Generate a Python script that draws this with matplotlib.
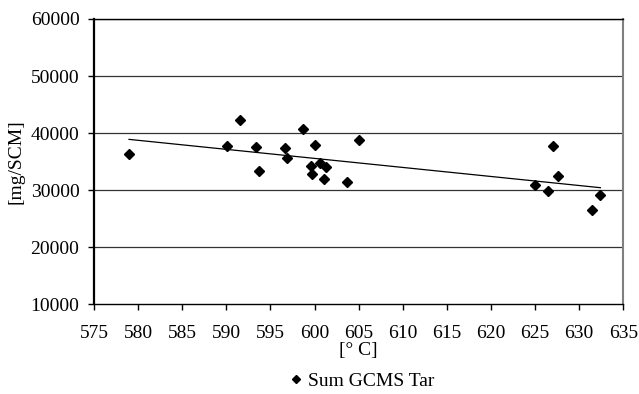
import numpy as np
import matplotlib
matplotlib.use("Agg")
import matplotlib.pyplot as plt
from matplotlib.lines import Line2D

temperature = [578.97, 590.04, 591.6, 593.37, 593.7, 596.64, 596.83, 598.72, 599.6, 599.69,
               600.01, 600.66, 601.03, 601.35, 603.66, 605.04, 625.02, 626.45, 627.0, 627.56,
               631.48, 632.4]
tar = [36300, 37680, 42230, 37500, 33310, 37330, 35580, 40710, 34180, 32790,
       37850, 34820, 32030, 34010, 31500, 38790, 30980, 29870, 37800, 32440,
       26610, 29110]
x_ticks = list(range(575, 636, 5))
y_ticks = list(range(10000, 60001, 10000))
series_name = "Sum GCMS Tar"
x_label = "[° C]"
y_label = "[mg/SCM]"

plt.rcParams['font.family'] = ['Liberation Serif', 'DejaVu Serif']
fs = 14

fig = plt.figure(figsize=(6.39, 3.94), dpi=100)
ax = fig.add_axes([94/639, 1-304.3/394, 529.3/639, 285.3/394])

ax.set_xlim(575, 635)
ax.set_ylim(10000, 60000)
ax.set_xticks(x_ticks)
ax.set_yticks(y_ticks)
ax.tick_params(direction='out', length=4.5, width=1, labelsize=fs, colors='black')
ax.tick_params(axis='x', pad=10.5)
ax.tick_params(axis='y', pad=6)
for y in y_ticks[1:]:
    ax.axhline(y, color='#333333', lw=0.9, zorder=1)

ax.spines['left'].set_linewidth(1.6)
ax.spines['bottom'].set_linewidth(1.0)
ax.spines['top'].set_linewidth(1.0)
ax.spines['right'].set_color('#808080')
ax.spines['right'].set_linewidth(1.5)

xs = np.array(temperature)
ys = np.array(tar)
ax.plot(xs, ys, linestyle='none', marker='D', markersize=5, color='black', zorder=3)

coef = np.polyfit(xs, ys, 1)
xl = np.array([xs.min(), xs.max()])
ax.plot(xl, np.polyval(coef, xl), color='black', lw=0.9, zorder=2)

ax.set_xlabel(x_label, fontsize=fs, labelpad=0)
ax.set_ylabel(y_label, fontsize=fs, labelpad=4)

handle = Line2D([], [], linestyle='none', marker='D', markersize=4, color='black')
fig.legend([handle], [series_name], loc='center', bbox_to_anchor=(360/639, 1-381/394),
           frameon=False, fontsize=fs, handletextpad=0.1, handlelength=1.0)

fig.savefig('out.png', dpi=100)
